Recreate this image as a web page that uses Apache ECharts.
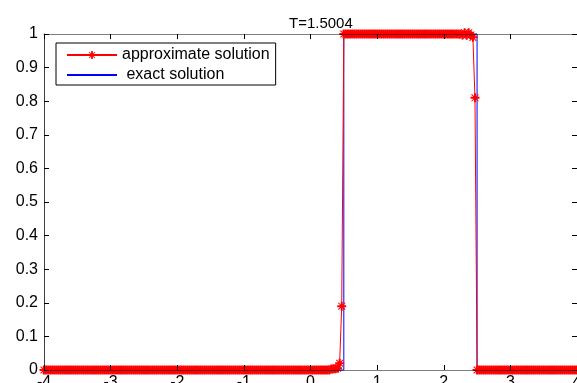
<!DOCTYPE html>
<html>
<head>
<meta charset="utf-8">
<script src="https://cdn.jsdelivr.net/npm/echarts@6/dist/echarts.min.js"></script>
<style>
  html, body { margin: 0; padding: 0; background: #ffffff; }
  #chart { width: 577px; height: 383px; }
</style>
</head>
<body>
<div id="chart"></div>
<script>
// Numerical vs exact solution of a square wave at T = 1.5004
const titleText = 'T=1.5004';
const approxName = 'approximate solution';
const exactName = ' exact solution';

const xTicks = [-4, -3, -2, -1, 0, 1, 2, 3, 4];
const yTicks = [0, 0.1, 0.2, 0.3, 0.4, 0.5, 0.6, 0.7, 0.8, 0.9, 1];

// Mesh of the numerical solution on [-4, 4]
const meshMin = -4;
const meshMax = 4;
const meshCells = 256;

// Levels of the numerical solution away from the jumps: [from, to, value]
const approxPlateaus = [
  [-4, 0.28125, 0],
  [0.5, 2.25, 1],
  [2.5, 4, 0]
];

// Mesh nodes around the two jumps: [x, value]
const approxJumpNodes = [
  [0.3125, 0.003], [0.34375, 0.004], [0.375, 0.004], [0.40625, 0.005],
  [0.4375, 0.02], [0.46875, 0.19],
  [2.28125, 0.997], [2.3125, 1.004], [2.34375, 0.996], [2.375, 1.004],
  [2.40625, 0.997], [2.4375, 0.99], [2.46875, 0.81]
];

// Exact solution: square pulse on [0.5, 2.5]
const exactX = [-4, 0.5, 0.5, 2.5, 2.5, 4];
const exactY = [0, 0, 1, 1, 0, 0];

// Assemble the numerical solution node by node
const approxData = [];
const h = (meshMax - meshMin) / meshCells;
for (let i = 0; i <= meshCells; i++) {
  const x = meshMin + i * h;
  const hit = approxJumpNodes.find(n => Math.abs(n[0] - x) < 1e-9);
  if (hit) { approxData.push([x, hit[1]]); continue; }
  const p = approxPlateaus.find(q => x >= q[0] - 1e-9 && x <= q[1] + 1e-9);
  if (p) approxData.push([x, p[2]]);
}
const exactData = exactX.map((x, i) => [x, exactY[i]]);

// Asterisk marker: plus and cross arms
const asterisk = 'path://M39 0L61 0L61 100L39 100Z M0 39L100 39L100 61L0 61Z ' +
  'M8 16L16 8L92 84L84 92Z M84 8L92 16L16 92L8 84Z';

const FONT = "'Liberation Sans', Arial, Helvetica, sans-serif";
const chart = echarts.init(document.getElementById('chart'), null, { renderer: 'canvas' });

const baseAxis = {
  axisTick: { show: true, inside: true, length: 5, lineStyle: { color: '#000', width: 1 } },
  splitLine: { show: false },
  z: 5
};

chart.setOption({
  animation: false,
  backgroundColor: '#ffffff',
  title: {
    text: titleText,
    left: 284,
    top: 11,
    textStyle: { fontFamily: FONT, fontSize: 15, fontWeight: 'normal', color: '#000' }
  },
  legend: {
    orient: 'vertical',
    left: 56,
    top: 43,
    padding: [4, 6, 2, 10],
    itemWidth: 50,
    itemHeight: 10,
    itemGap: 4,
    borderColor: '#000',
    borderWidth: 1,
    borderRadius: 0,
    backgroundColor: '#fff',
    textStyle: { fontFamily: FONT, fontSize: 16, lineHeight: 14, color: '#000' },
    data: [
      { name: approxName },
      { name: exactName, itemStyle: { opacity: 0 } }
    ]
  },
  grid: { left: 44, right: 0, top: 34, bottom: 13, containLabel: false, outerBoundsMode: 'none' },
  xAxis: [
    Object.assign({}, baseAxis, {
      type: 'value', min: -4, max: 4, interval: 1, position: 'bottom',
      axisLine: { show: true, onZero: false, lineStyle: { color: 'rgba(0,0,0,0.5)', width: 1 } },
      axisLabel: {
        margin: 5, color: '#000', fontFamily: FONT, fontSize: 16,
        formatter: v => (xTicks.includes(v) ? String(v) : '')
      }
    }),
    Object.assign({}, baseAxis, {
      type: 'value', min: -4, max: 4, interval: 1, position: 'top',
      axisLine: { show: true, onZero: false, lineStyle: { color: 'rgba(0,0,0,0.5)', width: 1 } },
      axisLabel: { show: false }
    })
  ],
  yAxis: [
    Object.assign({}, baseAxis, {
      type: 'value', min: 0, max: 1, interval: 0.1, position: 'left',
      axisLine: { show: true, onZero: false, lineStyle: { color: 'rgba(0,0,0,0.75)', width: 1 } },
      axisLabel: {
        margin: 6, color: '#000', fontFamily: FONT, fontSize: 16,
        formatter: v => {
          const t = yTicks.find(k => Math.abs(k - v) < 1e-9);
          return t === undefined ? '' : String(t);
        }
      }
    }),
    Object.assign({}, baseAxis, {
      type: 'value', min: 0, max: 1, interval: 0.1, position: 'right',
      axisLine: { show: true, onZero: false, lineStyle: { color: 'rgba(0,0,0,0.5)', width: 1 } },
      axisLabel: { show: false }
    })
  ],
  series: [
    {
      name: exactName,
      type: 'line',
      data: exactData,
      showSymbol: false,
      symbol: 'none',
      clip: false,
      z: 2,
      lineStyle: { color: '#0000ff', width: 1 },
      itemStyle: { color: '#0000ff' }
    },
    {
      name: approxName,
      type: 'line',
      data: approxData,
      symbol: asterisk,
      symbolSize: 9,
      showAllSymbol: true,
      clip: false,
      z: 3,
      lineStyle: { color: '#ff0000', width: 1 },
      itemStyle: { color: '#ff0000' }
    }
  ]
});
</script>
</body>
</html>
